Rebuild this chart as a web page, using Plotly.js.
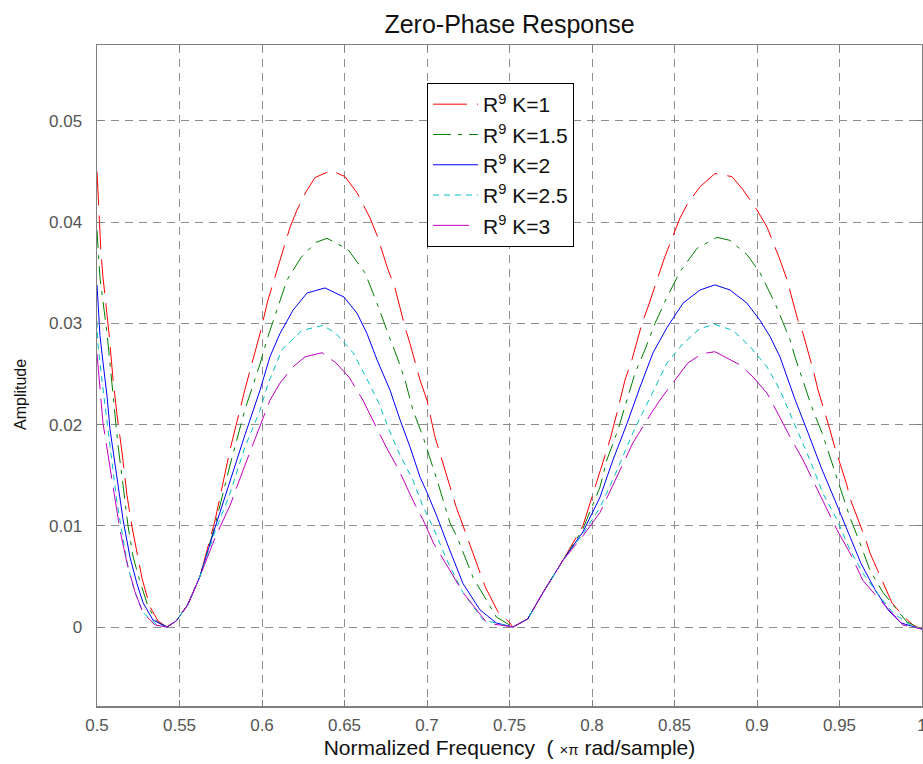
<!DOCTYPE html>
<html>
<head>
<meta charset="utf-8">
<script src="https://cdn.plot.ly/plotly-3.0.1.min.js"></script>
<style>html,body{margin:0;padding:0;background:#fff;}#chart{width:923px;height:764px;}</style>
</head>
<body>
<div id="chart"></div>
<script>
// Series values: [normalized frequency, amplitude]
const seriesK1 = [[0.5,0.045],[0.5012,0.0405],[0.5024,0.037],[0.5036,0.0346],[0.5048,0.0328],[0.5073,0.029],[0.5097,0.0245],[0.5121,0.021],[0.5152,0.0172],[0.5182,0.013],[0.5212,0.0099],[0.5242,0.0072],[0.5273,0.0048],[0.5321,0.002],[0.537,0.0006],[0.5424,0],[0.548,0.0006],[0.555,0.0022],[0.5624,0.005],[0.5715,0.0105],[0.5806,0.0175],[0.5897,0.0235],[0.5988,0.029],[0.6036,0.0323],[0.6121,0.037],[0.617,0.0395],[0.6212,0.0412],[0.6267,0.043],[0.6321,0.0444],[0.6418,0.0451],[0.6503,0.0445],[0.6576,0.0429],[0.6655,0.0404],[0.6697,0.0387],[0.6764,0.0353],[0.6806,0.0335],[0.6867,0.0296],[0.6897,0.028],[0.6958,0.0244],[0.7,0.0224],[0.7048,0.0188],[0.7079,0.0172],[0.7152,0.0132],[0.7176,0.0119],[0.7315,0.0056],[0.7352,0.004],[0.743,0.0015],[0.7503,0.0004],[0.7521,0],[0.761,0.0008],[0.7703,0.0034],[0.7824,0.0066],[0.7945,0.01],[0.8048,0.0152],[0.8109,0.0185],[0.8152,0.0212],[0.82,0.0244],[0.8242,0.0264],[0.8303,0.03],[0.8339,0.0316],[0.8412,0.0353],[0.8442,0.0366],[0.8533,0.0404],[0.8582,0.0419],[0.8655,0.0435],[0.8745,0.0448],[0.8848,0.0445],[0.8915,0.0432],[0.9,0.0412],[0.9061,0.0395],[0.9139,0.0363],[0.9182,0.0343],[0.9248,0.0303],[0.9279,0.029],[0.9345,0.0251],[0.937,0.0234],[0.9442,0.0195],[0.9467,0.018],[0.9545,0.014],[0.9564,0.0127],[0.9655,0.0088],[0.9685,0.0073],[0.9818,0.0024],[0.9879,0.0012],[0.9945,0.0002],[1.0,-0.0002]];
const seriesK15 = [[0.5,0.0392],[0.5018,0.0345],[0.5036,0.0322],[0.5061,0.029],[0.5085,0.025],[0.5103,0.022],[0.5127,0.018],[0.5158,0.014],[0.5188,0.01],[0.5218,0.007],[0.5255,0.0048],[0.531,0.002],[0.5364,0.0005],[0.5424,0],[0.548,0.0006],[0.555,0.0022],[0.5624,0.005],[0.5715,0.01],[0.5806,0.016],[0.5897,0.0215],[0.5988,0.026],[0.6036,0.0287],[0.6097,0.0316],[0.6152,0.0343],[0.6236,0.0365],[0.6327,0.038],[0.6394,0.0384],[0.6521,0.0373],[0.6624,0.035],[0.6697,0.032],[0.6764,0.029],[0.6818,0.0267],[0.6867,0.0244],[0.6915,0.0214],[0.6976,0.0188],[0.7036,0.0158],[0.7067,0.0142],[0.7139,0.0103],[0.7182,0.0089],[0.7279,0.0049],[0.7321,0.0037],[0.742,0.001],[0.7521,0],[0.761,0.0008],[0.7703,0.0034],[0.7824,0.0066],[0.7945,0.0097],[0.8048,0.0138],[0.809,0.0165],[0.8158,0.0195],[0.8212,0.0224],[0.8261,0.0251],[0.8321,0.0274],[0.8382,0.03],[0.8455,0.0326],[0.8533,0.0351],[0.8636,0.0374],[0.8758,0.0385],[0.8836,0.0382],[0.8939,0.0368],[0.9018,0.035],[0.9061,0.0336],[0.9109,0.032],[0.9152,0.0303],[0.92,0.0284],[0.923,0.0267],[0.9279,0.0244],[0.9339,0.0214],[0.9394,0.0192],[0.9455,0.0162],[0.9515,0.0132],[0.9564,0.0108],[0.9624,0.0083],[0.9685,0.0056],[0.9764,0.0034],[0.9909,0.0005],[1.0,-0.0002]];
const seriesK2 = [[0.5,0.0338],[0.5018,0.0288],[0.5036,0.0262],[0.5061,0.0228],[0.5079,0.0195],[0.5121,0.0145],[0.5158,0.0106],[0.52,0.0069],[0.5242,0.0043],[0.5279,0.0024],[0.5339,0.0007],[0.5424,0],[0.548,0.0006],[0.555,0.0022],[0.5624,0.005],[0.5715,0.0098],[0.5806,0.0145],[0.5897,0.019],[0.5988,0.0234],[0.6048,0.0267],[0.6109,0.029],[0.6188,0.0313],[0.6273,0.033],[0.6382,0.0335],[0.6497,0.0326],[0.6576,0.031],[0.6636,0.029],[0.6697,0.0264],[0.6776,0.0234],[0.6836,0.0205],[0.6897,0.0178],[0.6958,0.0148],[0.7,0.0133],[0.7061,0.0109],[0.7121,0.0083],[0.7218,0.0043],[0.7321,0.0017],[0.742,0.0004],[0.7521,0],[0.761,0.0008],[0.7703,0.0034],[0.7824,0.0066],[0.7945,0.0094],[0.8048,0.0128],[0.8127,0.0165],[0.8212,0.0201],[0.8291,0.0237],[0.837,0.0271],[0.8455,0.0296],[0.8552,0.032],[0.8655,0.0333],[0.8745,0.0338],[0.8836,0.0333],[0.8939,0.032],[0.9018,0.0303],[0.9079,0.0287],[0.9139,0.0267],[0.923,0.0225],[0.9309,0.0192],[0.9388,0.0158],[0.9473,0.0125],[0.9552,0.0093],[0.963,0.0063],[0.9715,0.0037],[0.9794,0.0017],[0.9873,0.0004],[1.0,-0.0002]];
const seriesK25 = [[0.5,0.0302],[0.5006,0.0279],[0.503,0.0244],[0.5061,0.0202],[0.5091,0.0165],[0.5121,0.0123],[0.5152,0.0093],[0.5188,0.0059],[0.523,0.0034],[0.5279,0.0014],[0.5364,0.0002],[0.5424,0],[0.548,0.0006],[0.555,0.0022],[0.5624,0.005],[0.5715,0.0094],[0.5806,0.0132],[0.5897,0.0178],[0.5988,0.0214],[0.6036,0.024],[0.6121,0.0274],[0.6242,0.0293],[0.637,0.0298],[0.6448,0.029],[0.6552,0.0271],[0.663,0.0247],[0.6709,0.0221],[0.677,0.0195],[0.683,0.0172],[0.6915,0.0145],[0.6976,0.0119],[0.7036,0.0099],[0.7121,0.0066],[0.7218,0.0034],[0.734,0.0007],[0.7521,0],[0.761,0.0008],[0.7703,0.0034],[0.7824,0.0066],[0.7945,0.0092],[0.8048,0.0118],[0.8152,0.0155],[0.8248,0.0192],[0.8352,0.0227],[0.8455,0.0261],[0.8552,0.028],[0.8655,0.0295],[0.8745,0.0299],[0.8855,0.0293],[0.8958,0.0277],[0.9061,0.0257],[0.9139,0.0234],[0.9242,0.0195],[0.9321,0.0165],[0.94,0.0132],[0.9485,0.0106],[0.9564,0.0076],[0.9642,0.0053],[0.9727,0.0034],[0.9824,0.0014],[0.993,0.0002],[1.0,-0.0002]];
const seriesK3 = [[0.5,0.027],[0.5018,0.0234],[0.5036,0.0202],[0.5067,0.017],[0.5097,0.0138],[0.5139,0.0096],[0.5182,0.0063],[0.523,0.0035],[0.5279,0.0014],[0.5352,0.0002],[0.5424,0],[0.548,0.0006],[0.555,0.0022],[0.5624,0.005],[0.5715,0.0088],[0.5806,0.012],[0.5897,0.016],[0.5988,0.0198],[0.6048,0.0224],[0.6109,0.0241],[0.6188,0.0257],[0.6261,0.0267],[0.6364,0.0271],[0.6448,0.0261],[0.6527,0.0247],[0.6612,0.0224],[0.6691,0.0198],[0.6752,0.0178],[0.683,0.0155],[0.6915,0.0125],[0.6976,0.0106],[0.7042,0.0082],[0.7139,0.0056],[0.7218,0.0034],[0.7364,0.0004],[0.7521,0],[0.761,0.0008],[0.7703,0.0034],[0.7824,0.0066],[0.7945,0.009],[0.8048,0.0113],[0.82,0.0165],[0.8248,0.0182],[0.837,0.0214],[0.8424,0.0227],[0.8582,0.0261],[0.8667,0.027],[0.8745,0.0272],[0.8897,0.0259],[0.8976,0.0247],[0.9061,0.0231],[0.9139,0.0207],[0.92,0.0188],[0.9279,0.0165],[0.9339,0.0145],[0.9424,0.0116],[0.9485,0.0096],[0.9564,0.0073],[0.9642,0.0046],[0.9727,0.003],[0.9788,0.0019],[0.9885,0.0002],[1.0,-0.0002]];

const seriesNames = ['R<sup>9</sup> K=1','R<sup>9</sup> K=1.5','R<sup>9</sup> K=2','R<sup>9</sup> K=2.5','R<sup>9</sup> K=3'];
const xTicks = [0.5,0.55,0.6,0.65,0.7,0.75,0.8,0.85,0.9,0.95,1];
const xTickText = ['0.5','0.55','0.6','0.65','0.7','0.75','0.8','0.85','0.9','0.95','1'];
const yTicks = [0,0.01,0.02,0.03,0.04,0.05];
const yTickText = ['0','0.01','0.02','0.03','0.04','0.05'];

const allSeries = [seriesK1, seriesK15, seriesK2, seriesK25, seriesK3];
const styles = [
  {color:'#ff0000', dash:'34px,10px'},
  {color:'#008000', dash:'18px,7px,4px,7px'},
  {color:'#0000ff', dash:'solid'},
  {color:'#00bfbf', dash:'6px,5px'},
  {color:'#bf00bf', dash:'36px,9px'}
];

const traces = allSeries.map((s,i)=>({
  type:'scatter', mode:'lines',
  x: s.map(p=>p[0]), y: s.map(p=>p[1]),
  name: seriesNames[i],
  line:{color:styles[i].color, width:1, dash:styles[i].dash}
}));

const font = 'Liberation Sans, Arial, Helvetica, sans-serif';
const axisCommon = {
  showline:true, linecolor:'#7f7f7f', linewidth:1.5, mirror:'ticks',
  ticks:'inside', ticklen:6, tickcolor:'#7f7f7f', tickwidth:1,
  showgrid:true, gridcolor:'#8f8f8f', gridwidth:1, griddash:'8px,6px',
  zeroline:false, tickfont:{family:font, size:17, color:'#555555'},
  ticklabeloverflow:'allow'
};

const layout = {
  width:923, height:764,
  margin:{l:97, r:1, t:45, b:58},
  paper_bgcolor:'#ffffff', plot_bgcolor:'#ffffff',
  font:{family:font},
  title:{text:'Zero-Phase Response', font:{family:font, size:25, color:'#111111'},
         xref:'paper', x:0.5, xanchor:'center', yref:'container', y:0.968, yanchor:'middle'},
  xaxis: Object.assign({}, axisCommon, {
    range:[0.5,1], tickmode:'array', tickvals:xTicks, ticktext:xTickText,
    ticklabelstandoff:3,
    title:{text:'Normalized Frequency  ( <span style="font-size:15px">×π</span> rad/sample)', font:{family:font, size:21, color:'#111111'}, standoff:6}
  }),
  yaxis: Object.assign({}, axisCommon, {
    range:[-0.0078,0.0575], tickmode:'array', tickvals:yTicks, ticktext:yTickText,
    ticklabelstandoff:10
  }),
  annotations:[{
    text:'Amplitude', xref:'paper', yref:'paper', x:(20-97)/825, y:(706-395)/661,
    xanchor:'center', yanchor:'middle', textangle:-90, showarrow:false,
    font:{family:font, size:16, color:'#111111'}
  }],
  showlegend:true,
  legend:{x:0.4, y:0.9425, xanchor:'left', yanchor:'top', bgcolor:'#ffffff',
          bordercolor:'#000000', borderwidth:1, font:{family:font, size:21, color:'#111111'},
          tracegroupgap:0, itemwidth:45}
};

Plotly.newPlot('chart', traces, layout, {displayModeBar:false, staticPlot:true});
</script>
</body>
</html>
